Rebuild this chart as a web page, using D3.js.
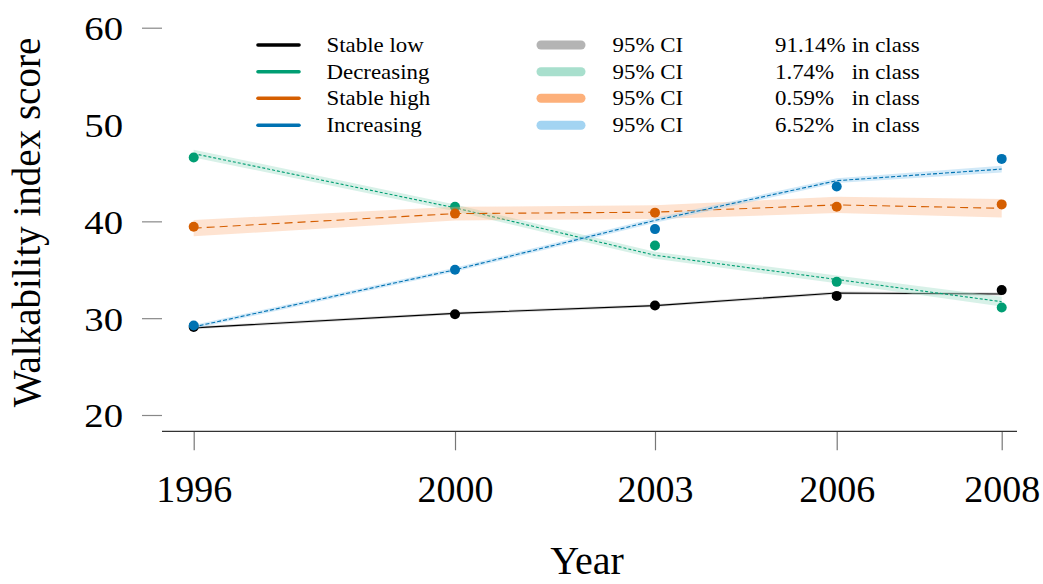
<!DOCTYPE html>
<html>
<head>
<meta charset="utf-8">
<script src="https://cdn.jsdelivr.net/npm/d3@7"></script>
<style>
  html, body { margin: 0; padding: 0; background: #fff; }
  svg { display: block; font-family: "Liberation Serif", "Times New Roman", serif; }
</style>
</head>
<body>
<svg id="chart" width="1043" height="584"></svg>
<script>
// Survey waves
const years = [1996, 2000, 2003, 2006, 2008];
const yTicks = [20, 30, 40, 50, 60];

// Trajectory classes
const classNames = ["Stable low", "Decreasing", "Stable high", "Increasing"];
const classShares = ["91.14%", "1.74%", "0.59%", "6.52%"];

// Observed class means
const stableLowObs  = [29.1, 30.4, 31.3, 32.3, 32.9];
const decreasingObs = [46.6, 41.5, 37.5, 33.75, 31.1];
const stableHighObs = [39.45, 40.8, 40.9, 41.5, 41.75];
const increasingObs = [29.25, 35.0, 39.2, 43.6, 46.45];

// Model-estimated trajectories
const stableLowFit  = [29.0, 30.5, 31.3, 32.6, 32.5];
const decreasingFit = [47.0, 41.4, 36.5, 34.0, 31.7];
const stableHighFit = [39.3, 40.8, 40.95, 41.7, 41.35];
const increasingFit = [29.1, 35.0, 40.1, 44.2, 45.4];

// 95% confidence bounds
const stableLowLo  = [28.85, 30.35, 31.15, 32.45, 32.35];
const stableLowHi  = [29.15, 30.65, 31.45, 32.75, 32.65];
const decreasingLo = [46.6, 41.05, 36.15, 33.6, 31.2];
const decreasingHi = [47.4, 41.75, 36.85, 34.4, 32.2];
const stableHighLo = [38.45, 40.1, 40.25, 40.85, 40.4];
const stableHighHi = [40.15, 41.5, 41.65, 42.55, 42.3];
const increasingLo = [28.9, 34.8, 39.85, 43.95, 45.05];
const increasingHi = [29.3, 35.2, 40.35, 44.45, 45.75];

// Styling per class
const lineColors = ["#000000", "#009E73", "#D55E00", "#0072B2"];
const bandColors = ["#b4b4b4", "#a8dfcd", "#fdb07a", "#a3d4f2"];
const bandOpacity = [0.55, 0.45, 0.35, 0.5];
const dashes = [null, "3,2", "8,5", "4,2"];

const series = [
  { obs: stableLowObs,  fit: stableLowFit,  lo: stableLowLo,  hi: stableLowHi },
  { obs: decreasingObs, fit: decreasingFit, lo: decreasingLo, hi: decreasingHi },
  { obs: stableHighObs, fit: stableHighFit, lo: stableHighLo, hi: stableHighHi },
  { obs: increasingObs, fit: increasingFit, lo: increasingLo, hi: increasingHi }
];

// Layout
const plotLeft = 162, plotRight = 1017, axisY = 431.3;
const xFirst = 193.7, xLast = 1001.7;
// waves are placed at these relative offsets along the axis
const waveOffsets = [0, 0.3234, 0.5709, 0.7958, 1];

const svg = d3.select("#chart");

const x = d3.scaleLinear()
  .domain(years)
  .range(waveOffsets.map(f => xFirst + f * (xLast - xFirst)));

const y = d3.scaleLinear().domain([20, 60]).range([415, 27.7]);

// Y axis: short ticks, no spine
const yAxis = svg.append("g")
  .attr("transform", `translate(${plotLeft},0)`)
  .call(d3.axisLeft(y).tickValues(yTicks).tickSizeInner(20).tickSizeOuter(0).tickFormat(d3.format("d")));
yAxis.select(".domain").remove();
yAxis.selectAll(".tick line").attr("stroke", "#888").attr("stroke-width", 1.2)
  .attr("display", d => d === 50 ? "none" : null);
yAxis.selectAll(".tick text")
  .attr("x", null).attr("dy", "0.35em")
  .attr("transform", "translate(-39,0) scale(1.14,1)")
  .attr("font-size", 34).attr("fill", "#000")
  .attr("font-family", "Liberation Serif");

// X axis
const xAxis = svg.append("g")
  .attr("transform", `translate(0,${axisY})`)
  .call(d3.axisBottom(x).tickValues(years).tickSizeInner(19).tickSizeOuter(0).tickFormat(d3.format("d")));
xAxis.select(".domain").remove();
xAxis.append("line")
  .attr("x1", plotLeft).attr("x2", plotRight)
  .attr("stroke", "#333").attr("stroke-width", 1.2);
xAxis.selectAll(".tick line").attr("stroke", "#777").attr("stroke-width", 1.2);
xAxis.selectAll(".tick text")
  .attr("y", 71).attr("dy", 0)
  .attr("font-size", 38).attr("fill", "#000")
  .attr("font-family", "Liberation Serif");

// Axis titles
svg.append("text")
  .attr("transform", "translate(40,222.5) rotate(-90)")
  .attr("text-anchor", "middle")
  .attr("font-size", 39)
  .text("Walkability index score");

svg.append("text")
  .attr("x", 587).attr("y", 574)
  .attr("text-anchor", "middle")
  .attr("font-size", 40)
  .text("Year");

// Bands, fitted lines and observed points
const area = d3.area()
  .x((d, i) => x(years[i]))
  .y0(d => y(d[0]))
  .y1(d => y(d[1]));
const line = d3.line()
  .x((d, i) => x(years[i]))
  .y(d => y(d));

const layers = svg.append("g");
series.forEach((s, k) => {
  const g = layers.append("g");
  g.append("path")
    .datum(s.lo.map((v, i) => [v, s.hi[i]]))
    .attr("d", area)
    .attr("fill", bandColors[k])
    .attr("fill-opacity", bandOpacity[k]);
  g.append("path")
    .datum(s.fit)
    .attr("d", line)
    .attr("fill", "none")
    .attr("stroke", lineColors[k])
    .attr("stroke-width", 1.1)
    .attr("stroke-dasharray", dashes[k]);
  g.selectAll("circle")
    .data(s.obs)
    .join("circle")
    .attr("cx", (d, i) => x(years[i]))
    .attr("cy", d => y(d))
    .attr("r", 5)
    .attr("fill", lineColors[k]);
});

// Legend
const legendRows = [45, 71.7, 98.3, 125.3];
const legend = svg.append("g");
classNames.forEach((name, k) => {
  const row = legend.append("g").attr("transform", `translate(0,${legendRows[k]})`);
  row.append("line")
    .attr("x1", 258).attr("x2", 299)
    .attr("stroke", lineColors[k]).attr("stroke-width", 3.6)
    .attr("stroke-linecap", "round");
  row.append("text")
    .attr("transform", "translate(326.5,7) scale(1.09,1)")
    .attr("font-size", 21).text(name);
  row.append("line")
    .attr("x1", 541).attr("x2", 581)
    .attr("stroke", bandColors[k]).attr("stroke-width", 9)
    .attr("stroke-linecap", "round");
  row.append("text")
    .attr("transform", "translate(612.5,7) scale(1.09,1)")
    .attr("font-size", 21).text("95% CI");
  row.append("text")
    .attr("transform", "translate(775,7) scale(1.09,1)")
    .attr("font-size", 21).text(classShares[k]);
  row.append("text")
    .attr("transform", "translate(851.7,7) scale(1.09,1)")
    .attr("font-size", 21).text("in class");
});
</script>
</body>
</html>
